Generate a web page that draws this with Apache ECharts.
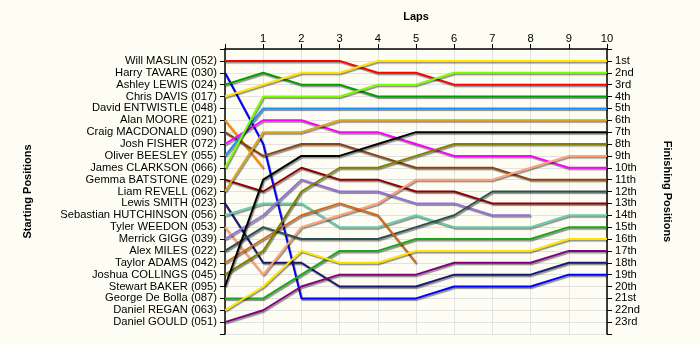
<!DOCTYPE html>
<html>
<head>
<meta charset="utf-8">
<script src="https://cdn.jsdelivr.net/npm/echarts@6/dist/echarts.min.js"></script>
<style>
html,body{margin:0;padding:0;background:#fdfdf3;}
#c{width:700px;height:345px;}
</style>
</head>
<body>
<div id="c"></div>
<script>
const laps = [0,1,2,3,4,5,6,7,8,9,10];
const lapLabels = ['', '1','2','3','4','5','6','7','8','9','10'];
const startNames = [
  'Will MASLIN (052)','Harry TAVARE (030)','Ashley LEWIS (024)','Chris DAVIS (017)',
  'David ENTWISTLE (048)','Alan MOORE (021)','Craig MACDONALD (090)','Josh FISHER (072)',
  'Oliver BEESLEY (055)','James CLARKSON (066)','Gemma BATSTONE (029)','Liam REVELL (062)',
  'Lewis SMITH (023)','Sebastian HUTCHINSON (056)','Tyler WEEDON (053)','Merrick GIGG (039)',
  'Alex MILES (022)','Taylor ADAMS (042)','Joshua COLLINGS (045)','Stewart BAKER (095)',
  'George De Bolla (087)','Daniel REGAN (063)','Daniel GOULD (051)'
];
const finishLabels = ['1st','2nd','3rd','4th','5th','6th','7th','8th','9th','10th','11th','12th',
  '13th','14th','15th','16th','17th','18th','19th','20th','21st','22nd','23rd'];

// Position of each driver at laps 0..10 (shorter arrays = retired)
const posMaslin     = [1,1,1,1,2,2,3,3,3,3,3];
const posTavare     = [2,8,21,21,21,21,20,20,20,19,19];
const posLewis      = [3,2,3,3,4,4,4,4,4,4,4];
const posDavis      = [4,3,2,2,1,1,1,1,1,1,1];
const posEntwistle  = [];
const posMoore      = [6,10];
const posMacdonald  = [7,9,8,8,9,10,10,10,11,11,11];
const posFisher     = [8,6,6,7,7,8,9,9,9,10,10];
const posBeesley    = [9,5,5,5,5,5,5,5,5,5,5];
const posClarkson   = [10,4,4,4,3,3,2,2,2,2,2];
const posBatstone   = [11,12,10,11,11,12,12,13,13,13,13];
const posRevell     = [12,7,7,6,6,6,6,6,6,6,6];
const posSmith      = [13,18,18,20,20,20,19,19,19,18,18];
const posHutchinson = [14,13,13,15,15,14,15,15,15,14,14];
const posWeedon     = [15,19,15,14,13,11,11,11,10,9,9];
const posGigg       = [16,14,11,12,12,13,13,14,14];
const posMiles      = [17,15,16,16,16,15,14,12,12,12,12];
const posAdams      = [18,16,14,13,14,18];
const posCollings   = [19,17,12,10,10,9,8,8,8,8,8];
const posBaker      = [20,11,9,9,8,7,7,7,7,7,7];
const posDeBolla    = [21,21,19,17,17,16,16,16,16,15,15];
const posRegan      = [22,20,17,18,18,17,17,17,17,16,16];
const posGould      = [23,22,20,19,19,19,18,18,18,17,17];

const drivers = [
  [startNames[0], posMaslin, '#ff0000'],
  [startNames[1], posTavare, '#0000ff'],
  [startNames[2], posLewis, '#009e00'],
  [startNames[3], posDavis, '#ffe400'],
  [startNames[4], posEntwistle, '#999999'],
  [startNames[5], posMoore, '#ff8c00'],
  [startNames[6], posMacdonald, '#8b4513'],
  [startNames[7], posFisher, '#ff00ff'],
  [startNames[8], posBeesley, '#1e90ff'],
  [startNames[9], posClarkson, '#7cfc00'],
  [startNames[10], posBatstone, '#8b0000'],
  [startNames[11], posRevell, '#daa520'],
  [startNames[12], posSmith, '#191970'],
  [startNames[13], posHutchinson, '#66cdaa'],
  [startNames[14], posWeedon, '#ffa07a'],
  [startNames[15], posGigg, '#9370db'],
  [startNames[16], posMiles, '#2f4f4f'],
  [startNames[17], posAdams, '#d2691e'],
  [startNames[18], posCollings, '#808000'],
  [startNames[19], posBaker, '#000000'],
  [startNames[20], posDeBolla, '#1ea51e'],
  [startNames[21], posRegan, '#ffe400'],
  [startNames[22], posGould, '#800080']
];

const font = '"Liberation Sans", Arial, sans-serif';
const fs = 11.2;
const chart = echarts.init(document.getElementById('c'), null, {renderer:'canvas'});

const series = drivers.map(d => ({
  name: d[0],
  type: 'line',
  symbol: 'none',
  silent: true,
  data: d[1].map((p, i) => [laps[i], p]),
  lineStyle: {
    color: d[2], width: 2,
    shadowColor: 'rgba(0,0,0,0.45)', shadowOffsetX: 1, shadowOffsetY: 1.5, shadowBlur: 1
  },
  itemStyle: {color: d[2]}
}));

chart.setOption({
  animation: false,
  backgroundColor: '#fdfdf3',
  grid: {left: 225, right: 93, top: 49, bottom: 11, containLabel: false},
  xAxis: {
    type: 'value', position: 'top', min: 0, max: 10, interval: 1,
    name: 'Laps', nameLocation: 'middle', nameGap: 27,
    nameTextStyle: {fontFamily: font, fontSize: 11, fontWeight: 'bold', color: '#000'},
    axisLine: {show: true, lineStyle: {color: '#000', width: 1.5}},
    axisTick: {show: true, length: 5, lineStyle: {color: '#000'}},
    axisLabel: {margin: 5, fontFamily: font, fontSize: fs, color: '#000',
      formatter: v => lapLabels[v] || ''},
    splitLine: {show: true, lineStyle: {color: '#e2e2e2', width: 1}}
  },
  yAxis: [{
    type: 'value', position: 'left', min: 0, max: 24, interval: 1, inverse: true,
    name: 'Starting Positions', nameLocation: 'middle', nameGap: 192, nameRotate: 90,
    nameTextStyle: {fontFamily: font, fontSize: 11, fontWeight: 'bold', color: '#000'},
    axisLine: {show: true, lineStyle: {color: '#000', width: 1.5}},
    axisTick: {show: true, length: 5, lineStyle: {color: '#000'}},
    axisLabel: {margin: 8, fontFamily: font, fontSize: fs, color: '#000',
      formatter: v => startNames[v - 1] || ''},
    splitLine: {show: true, lineStyle: {color: '#e2e2e2', width: 1}}
  }, {
    type: 'value', position: 'right', min: 0, max: 24, interval: 1, inverse: true,
    name: 'Finishing Positions', nameLocation: 'middle', nameGap: 55, nameRotate: -90,
    nameTextStyle: {fontFamily: font, fontSize: 11, fontWeight: 'bold', color: '#000'},
    axisLine: {show: true, lineStyle: {color: '#000', width: 1.5}},
    axisTick: {show: true, length: 5, lineStyle: {color: '#000'}},
    axisLabel: {margin: 8, fontFamily: font, fontSize: fs, color: '#000',
      formatter: v => finishLabels[v - 1] || ''},
    splitLine: {show: false}
  }],
  series: series
});
</script>
</body>
</html>
